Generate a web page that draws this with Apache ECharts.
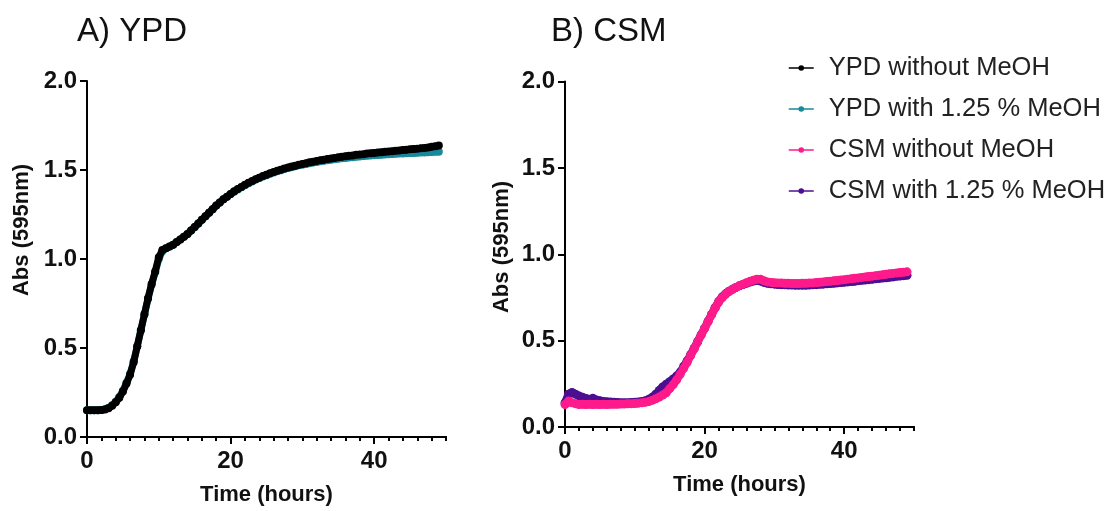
<!DOCTYPE html>
<html>
<head>
<meta charset="utf-8">
<script src="https://cdn.jsdelivr.net/npm/echarts@6/dist/echarts.min.js"></script>
<style>
html,body{margin:0;padding:0;background:#fff;}
#chart{width:1114px;height:511px;}
</style>
</head>
<body>
<div id="chart"></div>
<script>
// Time points (hours)
var timeHours = [
0,0.5,1,1.5,2,2.5,3,3.5,4,4.5,
5,5.5,6,6.5,7,7.5,8,8.5,9,9.5,
10,10.5,11,11.5,12,12.5,13,13.5,14,14.5,
15,15.5,16,16.5,17,17.5,18,18.5,19,19.5,
20,20.5,21,21.5,22,22.5,23,23.5,24,24.5,
25,25.5,26,26.5,27,27.5,28,28.5,29,29.5,
30,30.5,31,31.5,32,32.5,33,33.5,34,34.5,
35,35.5,36,36.5,37,37.5,38,38.5,39,39.5,
40,40.5,41,41.5,42,42.5,43,43.5,44,44.5,
45,45.5,46,46.5,47,47.5,48,48.5,49
];
// A) YPD
var ypdWithout = [
0.15,0.15,0.15,0.15,0.151,0.155,0.162,0.175,0.195,0.22,
0.255,0.30,0.35,0.42,0.51,0.60,0.69,0.78,0.86,0.93,
1.01,1.05,1.06,1.07,1.08,1.095,1.11,1.125,1.14,1.16,
1.18,1.20,1.22,1.24,1.26,1.28,1.30,1.318,1.335,1.35,
1.365,1.38,1.393,1.405,1.417,1.428,1.438,1.448,1.457,1.466,
1.474,1.482,1.489,1.496,1.502,1.508,1.514,1.519,1.524,1.529,
1.534,1.538,1.543,1.547,1.551,1.555,1.558,1.562,1.565,1.568,
1.571,1.574,1.577,1.580,1.582,1.585,1.587,1.589,1.592,1.594,
1.596,1.598,1.600,1.602,1.604,1.606,1.608,1.610,1.612,1.614,
1.616,1.618,1.620,1.622,1.624,1.627,1.630,1.633,1.637
];
var ypdWith = [
0.15,0.15,0.15,0.15,0.151,0.156,0.164,0.178,0.198,0.225,
0.26,0.305,0.355,0.425,0.51,0.60,0.69,0.775,0.855,0.925,
1.00,1.045,1.06,1.07,1.08,1.095,1.11,1.125,1.14,1.16,
1.18,1.20,1.22,1.24,1.26,1.28,1.30,1.318,1.335,1.35,
1.365,1.378,1.391,1.403,1.415,1.426,1.436,1.446,1.455,1.463,
1.471,1.479,1.486,1.493,1.499,1.505,1.511,1.516,1.521,1.526,
1.530,1.534,1.538,1.542,1.545,1.549,1.552,1.555,1.558,1.561,
1.563,1.566,1.568,1.570,1.572,1.574,1.576,1.578,1.580,1.581,
1.583,1.584,1.586,1.587,1.588,1.590,1.591,1.592,1.593,1.594,
1.595,1.596,1.597,1.598,1.599,1.600,1.601,1.602,1.603
];
// B) CSM
var csmWithout = [
0.13,0.15,0.14,0.135,0.13,0.132,0.13,0.131,0.13,0.132,
0.13,0.131,0.13,0.131,0.132,0.132,0.133,0.133,0.134,0.135,
0.136,0.138,0.14,0.143,0.147,0.155,0.163,0.173,0.185,0.198,
0.222,0.245,0.273,0.305,0.34,0.375,0.413,0.452,0.492,0.532,
0.57,0.61,0.65,0.688,0.722,0.748,0.768,0.784,0.797,0.808,
0.818,0.827,0.835,0.843,0.85,0.856,0.855,0.846,0.84,0.837,
0.835,0.834,0.833,0.832,0.832,0.831,0.831,0.831,0.832,0.832,
0.833,0.834,0.836,0.838,0.840,0.842,0.844,0.846,0.848,0.851,
0.853,0.856,0.858,0.861,0.863,0.866,0.868,0.871,0.873,0.876,
0.878,0.881,0.884,0.887,0.889,0.892,0.894,0.896,0.898
];
var csmWith = [
0.14,0.19,0.20,0.19,0.18,0.172,0.165,0.16,0.166,0.156,
0.152,0.148,0.146,0.144,0.143,0.142,0.141,0.141,0.141,0.142,
0.143,0.145,0.148,0.152,0.16,0.172,0.19,0.212,0.232,0.248,
0.262,0.278,0.295,0.318,0.35,0.382,0.418,0.455,0.494,0.533,
0.572,0.612,0.652,0.69,0.726,0.752,0.771,0.786,0.798,0.808,
0.817,0.825,0.832,0.839,0.845,0.849,0.845,0.837,0.832,0.829,
0.827,0.825,0.824,0.823,0.822,0.822,0.821,0.821,0.821,0.821,
0.822,0.823,0.824,0.826,0.827,0.829,0.830,0.832,0.834,0.836,
0.838,0.840,0.842,0.844,0.847,0.849,0.851,0.853,0.855,0.858,
0.860,0.862,0.864,0.867,0.869,0.872,0.874,0.876,0.878
];
var seriesNames = ['YPD without MeOH','YPD with 1.25 % MeOH','CSM without MeOH','CSM with 1.25 % MeOH'];
var panelTitles = ['A) YPD','B) CSM'];
var xMajorTicks = [0,20,40];
var xAxisTitle = 'Time (hours)';
var yAxisTitle = 'Abs (595nm)';

var FONT = "'Liberation Sans', Arial, sans-serif";
function pairs(xs, ys){ return xs.map(function(x,i){ return [x, ys[i]]; }); }

function minorX(grid){
  return {type:'value', gridIndex:grid, position:'bottom', min:0, max:50, interval:2,
    axisLine:{show:true, onZero:false, lineStyle:{color:'#000', width:2}},
    axisTick:{show:true, length:4, lineStyle:{color:'#000', width:2}},
    axisLabel:{show:false}, splitLine:{show:false}};
}
function majorX(grid, gap){
  return {type:'value', gridIndex:grid, position:'bottom', offset:0, min:0, max:50, interval:10,
    name:xAxisTitle, nameLocation:'middle', nameGap:gap,
    nameTextStyle:{fontFamily:FONT, fontWeight:'bold', fontSize:22, color:'#111'},
    axisLine:{show:true, onZero:false, lineStyle:{color:'#000', width:2}},
    axisTick:{show:true, length:7, customValues:xMajorTicks, lineStyle:{color:'#000', width:2}},
    axisLabel:{show:true, customValues:xMajorTicks, margin:12, fontFamily:FONT, fontWeight:'bold', fontSize:24, color:'#111'},
    splitLine:{show:false}};
}
function yAx(grid){
  return {type:'value', gridIndex:grid, position:'left', min:0, max:2, interval:0.5,
    axisLine:{show:true, onZero:false, lineStyle:{color:'#000', width:2}},
    axisTick:{show:true, length:7, lineStyle:{color:'#000', width:2}},
    axisLabel:{show:true, margin:10, fontFamily:FONT, fontWeight:'bold', fontSize:24, color:'#111',
      formatter:function(v){ return v.toFixed(1); }},
    splitLine:{show:false}};
}

var colors = ['#000000','#168a9a','#ff1a8c','#4d0f91'];
function lineSeries(i, xIdx, yIdx, vals, lw, sym, z){
  return {name:seriesNames[i], type:'line', xAxisIndex:xIdx, yAxisIndex:yIdx,
    data:pairs(timeHours, vals), symbol:'circle', symbolSize:sym, showSymbol:true,
    color:colors[i], lineStyle:{width:lw, color:colors[i]}, itemStyle:{color:colors[i]},
    z:z, animation:false};
}

var chart = echarts.init(document.getElementById('chart'), null, {renderer:'canvas'});
chart.setOption({
  backgroundColor:'#ffffff',
  animation:false,
  title:[
    {text:panelTitles[0], left:77, top:15, padding:0, textStyle:{fontFamily:FONT, fontWeight:'normal', fontSize:33, color:'#111'}},
    {text:panelTitles[1], left:551, top:15, padding:0, textStyle:{fontFamily:FONT, fontWeight:'normal', fontSize:33, color:'#111'}}
  ],
  grid:[
    {left:87, top:81, width:359, height:358},
    {left:565, top:81.5, width:349, height:345.5}
  ],
  xAxis:[minorX(0), majorX(0,47), minorX(1), majorX(1,47)],
  yAxis:[yAx(0), yAx(1)],
  legend:{
    data:seriesNames, orient:'vertical', left:788, top:55, padding:0,
    itemWidth:25, itemHeight:7, itemGap:15,
    lineStyle:{width:1.5},
    textStyle:{fontFamily:FONT, fontSize:25.5, color:'#222', lineHeight:25, padding:[0,0,0,10]}
  },
  graphic:[
    {type:'text', x:22, y:230, rotation:Math.PI/2,
      style:{text:yAxisTitle, font:"bold 22px 'Liberation Sans', Arial, sans-serif", fill:'#111', align:'center', verticalAlign:'middle'}},
    {type:'text', x:502, y:247, rotation:Math.PI/2,
      style:{text:yAxisTitle, font:"bold 22px 'Liberation Sans', Arial, sans-serif", fill:'#111', align:'center', verticalAlign:'middle'}}
  ],
  series:[
    lineSeries(0, 0, 0, ypdWithout, 7, 8, 4),
    lineSeries(1, 0, 0, ypdWith, 7, 8, 3),
    lineSeries(2, 2, 1, csmWithout, 8, 9, 4),
    lineSeries(3, 2, 1, csmWith, 8, 9, 3)
  ]
});
</script>
</body>
</html>
